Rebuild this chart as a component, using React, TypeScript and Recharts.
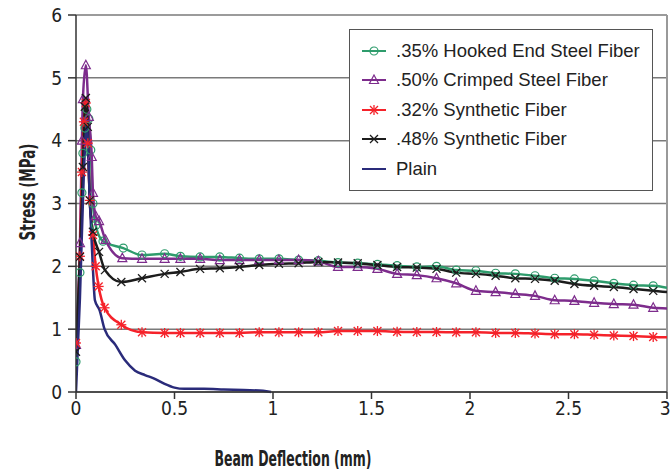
import React from "react"
import { LineChart, Line, XAxis, YAxis, CartesianGrid, ReferenceLine, Label } from "recharts"

// deflection (mm), stress (MPa)
const hookedSteel: [number, number][] = [
  [0, 0.48], [0.02, 1.9], [0.03, 3.17], [0.035, 3.8], [0.045, 4.2], [0.055, 4.5], [0.065, 4.35],
  [0.075, 3.85], [0.086, 3.0], [0.1, 2.65], [0.137, 2.4], [0.24, 2.29], [0.335, 2.18], [0.45, 2.2],
  [0.53, 2.16], [0.63, 2.15], [0.73, 2.15], [0.83, 2.13], [0.93, 2.12], [1.03, 2.12], [1.13, 2.1],
  [1.23, 2.09], [1.33, 2.06], [1.43, 2.05], [1.53, 2.03], [1.63, 2.01], [1.73, 1.99], [1.83, 2.0],
  [1.93, 1.94], [2.03, 1.93], [2.13, 1.89], [2.23, 1.88], [2.33, 1.85], [2.43, 1.81], [2.53, 1.8],
  [2.63, 1.77], [2.73, 1.73], [2.83, 1.7], [2.93, 1.69], [3.0, 1.66],
]

const crimpedSteel: [number, number][] = [
  [0, 0.75], [0.02, 2.37], [0.03, 4.0], [0.035, 4.66], [0.05, 5.2], [0.065, 4.38], [0.08, 3.74],
  [0.086, 3.17], [0.1, 2.8], [0.117, 2.72], [0.15, 2.42], [0.235, 2.13], [0.335, 2.12], [0.45, 2.12],
  [0.53, 2.12], [0.63, 2.12], [0.73, 2.1], [0.83, 2.1], [0.93, 2.1], [1.03, 2.1], [1.13, 2.1],
  [1.23, 2.08], [1.33, 1.99], [1.43, 1.99], [1.53, 1.96], [1.63, 1.88], [1.73, 1.86], [1.83, 1.81],
  [1.93, 1.73], [2.03, 1.61], [2.13, 1.59], [2.23, 1.56], [2.33, 1.53], [2.43, 1.46], [2.53, 1.45],
  [2.63, 1.42], [2.73, 1.4], [2.83, 1.39], [2.93, 1.34], [3.0, 1.33],
]

const synthetic32: [number, number][] = [
  [0, 0.78], [0.02, 2.16], [0.03, 3.5], [0.04, 4.3], [0.05, 4.6], [0.06, 3.96], [0.07, 3.05],
  [0.086, 2.5], [0.1, 2.0], [0.115, 1.68], [0.145, 1.34], [0.23, 1.07], [0.335, 0.95], [0.45, 0.94],
  [0.53, 0.94], [0.63, 0.94], [0.73, 0.94], [0.83, 0.94], [0.93, 0.95], [1.03, 0.95], [1.13, 0.95],
  [1.23, 0.95], [1.33, 0.97], [1.43, 0.97], [1.53, 0.97], [1.63, 0.96], [1.73, 0.955], [1.83, 0.955],
  [1.93, 0.95], [2.03, 0.95], [2.13, 0.94], [2.23, 0.94], [2.33, 0.93], [2.43, 0.92], [2.53, 0.92],
  [2.63, 0.91], [2.73, 0.9], [2.83, 0.89], [2.93, 0.875], [3.0, 0.87],
]

const synthetic48: [number, number][] = [
  [0, 0.64], [0.02, 2.15], [0.035, 3.58], [0.045, 4.54], [0.05, 4.68], [0.06, 4.22], [0.07, 3.05],
  [0.086, 2.55], [0.117, 2.23], [0.147, 1.94], [0.23, 1.75], [0.335, 1.81], [0.45, 1.88], [0.53, 1.91],
  [0.63, 1.96], [0.73, 1.97], [0.83, 1.99], [0.93, 2.02], [1.03, 2.04], [1.13, 2.05], [1.23, 2.07],
  [1.33, 2.06], [1.43, 2.05], [1.53, 2.02], [1.63, 1.99], [1.73, 1.98], [1.83, 1.96], [1.93, 1.9],
  [2.03, 1.88], [2.13, 1.85], [2.23, 1.81], [2.33, 1.8], [2.43, 1.77], [2.53, 1.72], [2.63, 1.69],
  [2.73, 1.67], [2.83, 1.64], [2.93, 1.61], [3.0, 1.59],
]

const plain: [number, number][] = [
  [0, 0], [0.02, 1.5], [0.04, 3.5], [0.055, 4.25], [0.07, 3.05], [0.085, 2.02], [0.096, 1.46],
  [0.12, 1.3], [0.145, 1.0], [0.2, 0.75], [0.25, 0.5], [0.3, 0.34], [0.35, 0.27], [0.4, 0.21],
  [0.45, 0.13], [0.5, 0.07], [0.55, 0.05], [0.65, 0.05], [0.75, 0.04], [0.85, 0.03], [0.95, 0.02],
  [0.99, 0],
]

const xTicks = [0, 0.5, 1, 1.5, 2, 2.5, 3]
const yTicks = [0, 1, 2, 3, 4, 5, 6]

type MarkerKind = "circle" | "triangle" | "star" | "cross" | "none"

const series = [
  { name: ".35% Hooked End Steel Fiber", points: hookedSteel, color: "#2E9C6C", marker: "circle" as MarkerKind },
  { name: ".50% Crimped Steel Fiber", points: crimpedSteel, color: "#7D2C8C", marker: "triangle" as MarkerKind },
  { name: ".32% Synthetic Fiber", points: synthetic32, color: "#F5222A", marker: "star" as MarkerKind },
  { name: ".48% Synthetic Fiber", points: synthetic48, color: "#1C1C1C", marker: "cross" as MarkerKind },
  { name: "Plain", points: plain, color: "#2A2B7A", marker: "none" as MarkerKind },
]

const FONT = '"Liberation Sans Narrow", "DejaVu Sans Condensed", "Arial Narrow", sans-serif'
const LEGEND_FONT = '"Liberation Sans", Arial, sans-serif'

function Marker({ kind, cx, cy, color }: { kind: MarkerKind; cx: number; cy: number; color: string }) {
  const s = 4
  if (kind === "circle") return <circle cx={cx} cy={cy} r={s} fill="none" stroke={color} strokeWidth={1.2} />
  if (kind === "triangle")
    return (
      <polygon
        points={`${cx},${cy - s - 1} ${cx + s + 0.5},${cy + s - 0.5} ${cx - s - 0.5},${cy + s - 0.5}`}
        fill="none"
        stroke={color}
        strokeWidth={1.2}
      />
    )
  if (kind === "star")
    return (
      <g stroke={color} strokeWidth={1.3}>
        <line x1={cx - s} y1={cy - s} x2={cx + s} y2={cy + s} />
        <line x1={cx - s} y1={cy + s} x2={cx + s} y2={cy - s} />
        <line x1={cx} y1={cy - s - 1} x2={cx} y2={cy + s + 1} />
        <line x1={cx - s - 1} y1={cy} x2={cx + s + 1} y2={cy} />
      </g>
    )
  if (kind === "cross")
    return (
      <g stroke={color} strokeWidth={1.3}>
        <line x1={cx - s} y1={cy - s} x2={cx + s} y2={cy + s} />
        <line x1={cx - s} y1={cy + s} x2={cx + s} y2={cy - s} />
      </g>
    )
  return null
}

function ChartLegend() {
  return (
    <div
      style={{
        position: "absolute",
        left: 349,
        top: 29,
        width: 304,
        height: 162,
        boxSizing: "border-box",
        border: "1.5px solid #555",
        background: "#fff",
        padding: "6px 0 0 12px",
        fontFamily: LEGEND_FONT,
        fontSize: 18.5,
        color: "#222",
      }}
    >
      {series.map((s) => (
        <div key={s.name} style={{ height: 29.5, display: "flex", alignItems: "center" }}>
          <svg width={24} height={12} style={{ marginRight: 10, flexShrink: 0 }}>
            <line x1={0} y1={6} x2={24} y2={6} stroke={s.color} strokeWidth={2} />
            <Marker kind={s.marker} cx={12} cy={6} color={s.color} />
          </svg>
          <span style={{ whiteSpace: "nowrap" }}>{s.name}</span>
        </div>
      ))}
    </div>
  )
}

export default function App() {
  return (
    <div style={{ position: "absolute", left: 0, top: 0, width: 670, height: 469, background: "#fff" }}>
      <LineChart width={670} height={469} margin={{ top: 15, right: 3, left: 0, bottom: 37 }}>
        <CartesianGrid vertical={false} stroke="#7a7a7a" strokeWidth={1.5} />
        <XAxis
          type="number"
          dataKey="x"
          domain={[0, 3]}
          ticks={xTicks}
          allowDataOverflow
          height={40}
          tickSize={7}
          tickMargin={3}
          tick={{ fontSize: 19, fill: "#222", fontFamily: FONT }}
          tickLine={{ stroke: "#333", strokeWidth: 1.5 }}
          axisLine={{ stroke: "#333", strokeWidth: 1.5 }}
        >
          <Label
            content={() => (
              <text
                x={293}
                y={458}
                textAnchor="middle"
                fontFamily={FONT}
                fontWeight="bold"
                fontSize={22}
                fill="#222"
                textLength={157}
                lengthAdjust="spacingAndGlyphs"
                dominantBaseline="central"
              >
                Beam Deflection (mm)
              </text>
            )}
          />
        </XAxis>
        <YAxis
          type="number"
          domain={[0, 6]}
          ticks={yTicks}
          width={76}
          tickSize={8}
          tickMargin={6}
          tick={{ fontSize: 19, fill: "#222", fontFamily: FONT }}
          tickLine={{ stroke: "#333", strokeWidth: 1.5 }}
          axisLine={{ stroke: "#333", strokeWidth: 1.5 }}
        >
          <Label
            content={() => (
              <text
                x={27}
                y={192}
                transform="rotate(-90 27 192)"
                textAnchor="middle"
                dominantBaseline="central"
                fontFamily={FONT}
                fontWeight="bold"
                fontSize={22}
                fill="#222"
                textLength={97}
                lengthAdjust="spacingAndGlyphs"
              >
                Stress (MPa)
              </text>
            )}
          />
        </YAxis>
        <ReferenceLine x={3} stroke="#999" strokeWidth={2} />
        {series.map((s) => (
          <Line
            key={s.name}
            name={s.name}
            data={s.points.map(([x, y]) => ({ x, y }))}
            dataKey="y"
            type="monotone"
            stroke={s.color}
            strokeWidth={2.5}
            isAnimationActive={false}
            activeDot={false}
            dot={(p: any) => {
              const k = `${s.name}-${p.index}`
              if (s.marker === "none" || p.payload.x >= 3) return <g key={k} />
              return (
                <g key={k}>
                  <Marker kind={s.marker} cx={p.cx} cy={p.cy} color={s.color} />
                </g>
              )
            }}
          />
        ))}
      </LineChart>
      <ChartLegend />
    </div>
  )
}
